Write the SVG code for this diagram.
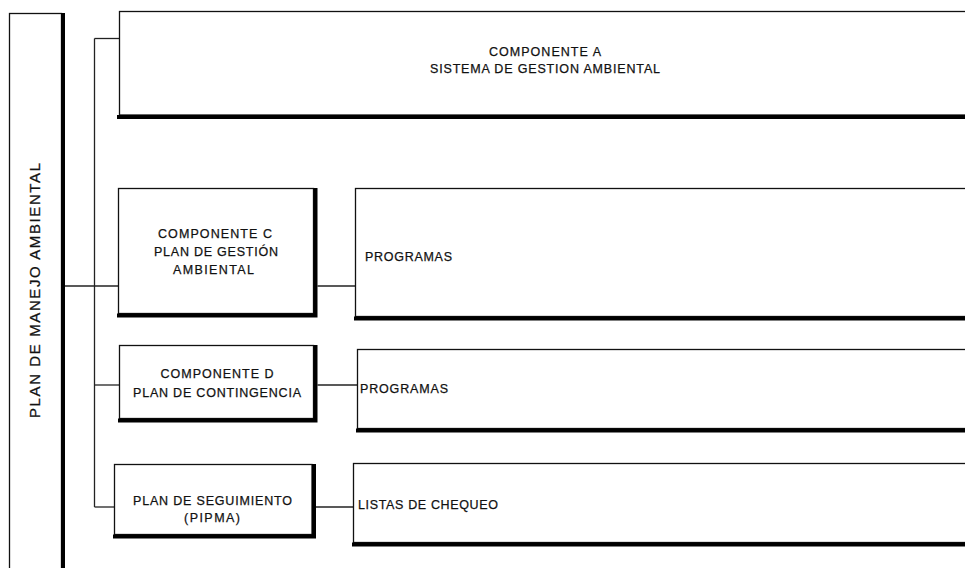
<svg xmlns="http://www.w3.org/2000/svg" width="965" height="568" viewBox="0 0 965 568">
<style>
  .box { fill: #fff; stroke: #111; stroke-width: 1.3; }
  .shadow { fill: none; stroke: #000; stroke-width: 4; }
  .conn { fill: none; stroke: #222; stroke-width: 1.3; }
  text { font-family: "Liberation Sans", Arial, sans-serif; font-size: 12.5px; fill: #111; stroke: #111; stroke-width: 0.25; }
  .c { text-anchor: middle; }
</style>
<rect width="965" height="568" fill="#fff"/>

<g id="connectors">
  <path class="conn" d="M94.5 38.5 V507"/>
  <path class="conn" d="M94.5 38.5 H119.5"/>
  <path class="conn" d="M64.5 286 H118.5"/>
  <path class="conn" d="M94.5 385 H119.5"/>
  <path class="conn" d="M94.5 507 H114.5"/>
  <path class="conn" d="M317.5 286 H355.5"/>
  <path class="conn" d="M317.5 385 H357.5"/>
  <path class="conn" d="M316 507 H353.5"/>
</g>

<g id="plan-manejo">
  <rect class="box" x="9.5" y="13.5" width="52" height="600"/>
  <path class="shadow" d="M63 13 V570" stroke-width="3"/>
  <text class="c" transform="translate(40,290.5) rotate(-90)" x="0" y="0" style="font-size:15px" textLength="255" lengthAdjust="spacing">PLAN DE MANEJO AMBIENTAL</text>
</g>

<g id="componente-a">
  <rect class="box" x="119.5" y="11.5" width="900" height="103.5"/>
  <path class="shadow" d="M117 117 H970"/>
  <text class="c" x="545" y="55.5" textLength="112" lengthAdjust="spacing">COMPONENTE A</text>
  <text class="c" x="545" y="72.5" textLength="230" lengthAdjust="spacing">SISTEMA DE GESTION AMBIENTAL</text>
</g>

<g id="componente-c">
  <rect class="box" x="118.5" y="188.5" width="195" height="125"/>
  <path class="shadow" d="M315.5 188 V315.5 H117"/>
  <text class="c" x="215" y="238" textLength="114" lengthAdjust="spacing">COMPONENTE C</text>
  <text class="c" x="216" y="256" textLength="124" lengthAdjust="spacing">PLAN DE GESTIÓN</text>
  <text class="c" x="213.5" y="274" textLength="81" lengthAdjust="spacing">AMBIENTAL</text>
</g>

<g id="programas-c">
  <rect class="box" x="355.5" y="188.5" width="700" height="128"/>
  <path class="shadow" d="M354 318.5 H970"/>
  <text x="365" y="261" textLength="87" lengthAdjust="spacing">PROGRAMAS</text>
</g>

<g id="componente-d">
  <rect class="box" x="119.5" y="345.5" width="194" height="73"/>
  <path class="shadow" d="M315.5 345 V420.5 H118"/>
  <text class="c" x="217" y="377.5" textLength="113" lengthAdjust="spacing">COMPONENTE D</text>
  <text class="c" x="217" y="396.5" textLength="168" lengthAdjust="spacing">PLAN DE CONTINGENCIA</text>
</g>

<g id="programas-d">
  <rect class="box" x="357.5" y="349.5" width="700" height="79"/>
  <path class="shadow" d="M356 430.5 H970"/>
  <text x="360" y="392.5" textLength="88" lengthAdjust="spacing">PROGRAMAS</text>
</g>

<g id="plan-seguimiento">
  <rect class="box" x="114.5" y="464.5" width="197.5" height="70"/>
  <path class="shadow" d="M314 464 V536.5 H113"/>
  <text class="c" x="212.5" y="505" textLength="159" lengthAdjust="spacing">PLAN DE SEGUIMIENTO</text>
  <text class="c" x="212" y="522" textLength="56" lengthAdjust="spacing">(PIPMA)</text>
</g>

<g id="listas-chequeo">
  <rect class="box" x="353.5" y="463.5" width="700" height="79"/>
  <path class="shadow" d="M352 544.5 H970"/>
  <text x="358" y="509" textLength="140" lengthAdjust="spacing">LISTAS DE CHEQUEO</text>
</g>
</svg>
